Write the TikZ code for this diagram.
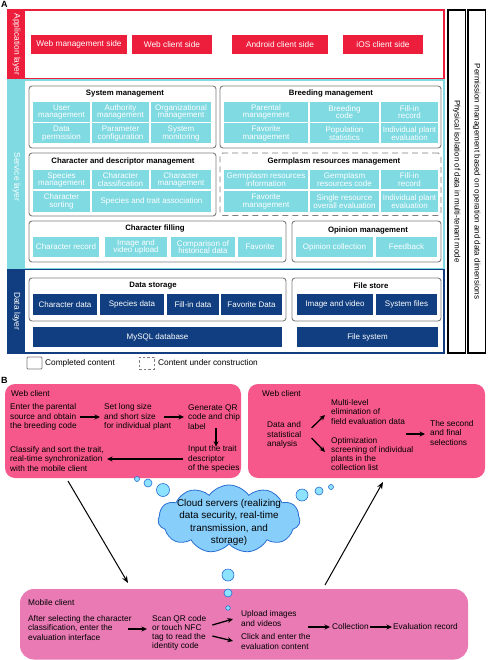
\documentclass[tikz,border=0pt]{standalone}
\usepackage{fontspec}
\setmainfont{Liberation Sans}
\usetikzlibrary{arrows.meta,shapes.symbols}
\definecolor{appred}{RGB}{236,30,60}
\definecolor{svccyan}{RGB}{128,218,226}
\definecolor{datanavy}{RGB}{16,62,128}
\definecolor{grpgray}{RGB}{125,125,125}
\definecolor{webpink}{RGB}{246,88,140}
\definecolor{mobpink}{RGB}{233,122,180}
\definecolor{cloudfill}{RGB}{136,206,250}
\definecolor{cloudline}{RGB}{40,110,210}
\definecolor{bubfill}{RGB}{140,226,255}
\newcommand\bx[7]{\node[#1, minimum width={(#5-#3)*1pt}, minimum height={(#6-#4)*1pt}] (#2) at ({(#3+#5)/2},{(#4+#6)/2}) {#7};}
\tikzset{
  base/.style={inner sep=0pt, outer sep=0pt, align=center},
  cyancell/.style={base, fill=svccyan, text=white, font=\fontsize{8}{7.6}\selectfont},
  navycell/.style={base, fill=datanavy, text=white, font=\fontsize{8}{8}\selectfont},
  redcell/.style={base, fill=appred, text=white, font=\fontsize{8.3}{9}\selectfont},
  grpbox/.style={base, draw=grpgray, line width=0.9pt, rounded corners=3pt},
  grpdash/.style={grpbox, dash pattern=on 6pt off 4pt},
  grptitle/.style={font=\bfseries\fontsize{7.8}{9}\selectfont, inner sep=0pt},
  layerlabel/.style={rotate=-90, text=white, font=\fontsize{8.4}{9}\selectfont, inner sep=0pt},
  sidebar/.style={base, draw=black, line width=1.4pt},
  sidetext/.style={rotate=-90, font=\fontsize{8}{9}\selectfont, inner sep=0pt},
  legtext/.style={anchor=west, font=\fontsize{8.3}{9}\selectfont, inner sep=0pt},
  btext/.style={anchor=west, align=left, inner sep=0pt, font=\fontsize{8.3}{9.2}\selectfont},
  arr/.style={-{Stealth[length=5.5pt,width=5pt]}, line width=1.3pt},
  longarr/.style={-{Stealth[length=7pt,width=5.5pt]}, line width=1pt},
  bubble/.style={circle, draw=cloudline, fill=bubfill, line width=0.6pt, inner sep=0pt, outer sep=0pt},
  panel/.style={font=\bfseries\fontsize{9}{9}\selectfont, anchor=north west, inner sep=0pt}
}
\begin{document}
\begin{tikzpicture}[x=1pt,y=-1pt]
\useasboundingbox (0,0) rectangle (487,660);
\node[panel] (labA) at (1,1) {A};
% ---------- layers ----------
\bx{base, draw=appred, line width=1.5pt}{appframe}{8}{10}{444}{79}{}
\bx{base, fill=appred}{appstrip}{8}{10}{25}{79}{}
\node[layerlabel] (applab) at (appstrip.center) {Application layer};
\bx{base, draw=svccyan, line width=1.5pt}{svcframe}{8}{80}{444}{269}{}
\bx{base, fill=svccyan}{svcstrip}{8}{80}{25}{269}{}
\node[layerlabel] (svclab) at (16.5,177) {Service layer};
\bx{base, draw=datanavy, line width=1.5pt}{dataframe}{8}{269.5}{444}{353}{}
\bx{base, fill=datanavy}{datastrip}{8}{269.5}{25}{353}{}
\node[layerlabel] (datalab) at (datastrip.center) {Data layer};
% ---------- application cells ----------
\bx{redcell}{webman}{31}{35}{127}{54}{Web management side}
\bx{redcell}{webcli}{132}{35}{212}{54}{Web client side}
\bx{redcell}{andcli}{232}{35}{328}{54}{Android client side}
\bx{redcell}{ioscli}{343}{35}{423}{54}{iOS client side}
% ---------- system management ----------
\bx{grpbox}{sysm}{29}{86}{216}{148}{}
\node[grptitle] (sysmt) at (125,94) {System management};
\bx{cyancell}{s11}{33}{102}{90}{122}{User\\management}
\bx{cyancell}{s12}{92}{102}{149}{122}{Authority\\management}
\bx{cyancell}{s13}{151}{102}{211}{122}{Organizational\\management}
\bx{cyancell}{s21}{33}{123.5}{90}{143.5}{Data\\permission}
\bx{cyancell}{s22}{92}{123.5}{149}{143.5}{Parameter\\configuration}
\bx{cyancell}{s23}{151}{123.5}{211}{143.5}{System\\monitoring}
% ---------- breeding management ----------
\bx{grpbox}{brm}{220}{86}{441}{148}{}
\node[grptitle] (brmt) at (331,94) {Breeding management};
\bx{cyancell}{b11}{224}{102}{308}{122}{Parental\\management}
\bx{cyancell}{b12}{310}{102}{379}{122}{Breeding\\code}
\bx{cyancell}{b13}{381}{102}{438}{122}{Fill-in\\record}
\bx{cyancell}{b21}{224}{123.5}{308}{143.5}{Favorite\\management}
\bx{cyancell}{b22}{310}{123.5}{379}{143.5}{Population\\statistics}
\bx{cyancell}{b23}{381}{123.5}{438}{143.5}{Individual plant\\evaluation}
% ---------- character and descriptor ----------
\bx{grpbox}{cdm}{29}{153}{216}{216}{}
\node[grptitle] (cdmt) at (123,162) {Character and descriptor management};
\bx{cyancell}{d11}{33}{170}{90}{189.5}{Species\\management}
\bx{cyancell}{d12}{92}{170}{149}{189.5}{Character\\classification}
\bx{cyancell}{d13}{151}{170}{211}{189.5}{Character\\management}
\bx{cyancell}{d21}{33}{191.5}{90}{211.5}{Character\\sorting}
\bx{cyancell}{d22}{92}{191.5}{211}{211.5}{Species and trait association}
% ---------- germplasm ----------
\bx{grpdash}{grm}{220}{153}{441}{215.5}{}
\node[grptitle] (grmt) at (334,162) {Germplasm resources management};
\bx{cyancell}{g11}{224}{170}{308}{189.5}{Germplasm resources\\information}
\bx{cyancell}{g12}{310}{170}{379}{189.5}{Germplasm\\resources code}
\bx{cyancell}{g13}{381}{170}{438}{189.5}{Fill-in\\record}
\bx{cyancell}{g21}{224}{191.5}{308}{211.5}{Favorite\\management}
\bx{cyancell}{g22}{310}{191.5}{379}{211.5}{Single resource\\overall evaluation}
\bx{cyancell}{g23}{381}{191.5}{438}{211.5}{Individual plant\\evaluation}
% ---------- character filling ----------
\bx{grpbox}{cfm}{29}{221}{286}{262}{}
\node[grptitle] (cfmt) at (155,229) {Character filling};
\bx{cyancell}{f1}{33}{237}{99}{257}{Character record}
\bx{cyancell}{f2}{105}{237}{167}{257}{Image and\\video upload}
\bx{cyancell}{f3}{171}{237}{235}{257}{Comparison of\\historical data}
\bx{cyancell}{f4}{238}{237}{282}{257}{Favorite}
% ---------- opinion ----------
\bx{grpbox}{opm}{292}{221}{441}{262}{}
\node[grptitle] (opmt) at (368,230) {Opinion management};
\bx{cyancell}{o1}{296}{237}{373}{257}{Opinion collection}
\bx{cyancell}{o2}{376}{237}{437}{257}{Feedback}
% ---------- data storage ----------
\bx{grpbox}{dsm}{29}{278}{286}{321}{}
\node[grptitle] (dsmt) at (153,286) {Data storage};
\bx{navycell}{n1}{33}{294}{97}{315}{Character data}
\bx{navycell}{n2}{100}{294}{164}{315}{Species data}
\bx{navycell}{n3}{167}{294}{219}{315}{Fill-in data}
\bx{navycell}{n4}{221}{294}{282}{315}{Favorite Data}
\bx{grpbox}{fsm}{292}{278}{441}{321}{}
\node[grptitle] (fsmt) at (371,286) {File store};
\bx{navycell}{n5}{297}{294}{373}{315}{Image and video}
\bx{navycell}{n6}{376}{294}{437}{315}{System files}
\bx{navycell}{mysql}{33}{327}{282}{347}{MySQL database}
\bx{navycell}{filesys}{297}{327}{438}{347}{File system}
% ---------- side bars ----------
\bx{sidebar}{phys}{448}{10}{465.5}{353}{}
\node[sidetext] (physt) at (phys.center) {Physical isolation of data in multi-tenant mode};
\bx{sidebar}{perm}{468}{10}{485.5}{353}{}
\node[sidetext] (permt) at (perm.center) {Permission management based on operation and data dimensions};
% ---------- legend ----------
\bx{base, draw=grpgray, line width=0.9pt, rounded corners=1pt}{leg1}{27}{357}{42}{369}{}
\node[legtext] (leg1t) at (45,363) {Completed content};
\bx{base, draw=grpgray, line width=0.9pt, dash pattern=on 2.5pt off 2pt}{leg2}{139}{357}{154}{369}{}
\node[legtext] (leg2t) at (158,363) {Content under construction};
% ================= PART B =================
\node[panel] (labB) at (1,377) {B};
\bx{base, fill=webpink, rounded corners=10pt}{webL}{5}{384}{241}{478}{}
\bx{base, fill=webpink, rounded corners=10pt}{webR}{248}{384}{485}{478}{}
\bx{base, fill=mobpink, rounded corners=14pt}{mob}{20}{589}{468}{659.5}{}
% left web client
\node[btext] (wl0) at (11,394) {Web client};
\node[btext] (wl1) at (10,417) {Enter the parental\\source and obtain\\the breeding code};
\node[btext] (wl2) at (104,417) {Set long size\\and short size\\for individual plant};
\node[btext] (wl3) at (188,417) {Generate QR\\code and chip\\label};
\node[btext] (wl4) at (188,459) {Input the trait\\descriptor\\of the species};
\node[btext] (wl5) at (10,459) {Classify and sort the trait,\\real-time synchronization\\with the mobile client};
\draw[arr] ([xshift=3]wl1.east) -- ([xshift=-4]wl2.west);
\draw[arr] ([xshift=60]wl2.west) -- ([xshift=-4]wl3.west);
\draw[arr] ([shift={(2,-1)}]wl3.south) -- ([shift={(2,1)}]wl3.south |- wl4.north);
\draw[arr] ([xshift=-5]wl4.west) -- ([xshift=3]wl5.east);
% right web client
\node[btext] (wr0) at (262,394) {Web client};
\node[btext] (wr1) at (267,435) {Data and\\statistical\\analysis};
\node[btext] (wr2) at (331,412) {Multi-level\\elimination of\\field evaluation data};
\node[btext] (wr3) at (331,454) {Optimization\\screening of individual\\plants in the\\collection list};
\node[btext] (wr4) at (430,433) {The second\\and final\\selections};
\draw[arr] ([shift={(10,-7)}]wr1.east) -- ([shift={(-6,3)}]wr2.west);
\draw[arr] ([shift={(10,3)}]wr1.east) -- ([shift={(-6,-2)}]wr3.west);
\draw[arr] ([shift={(-24,1)}]wr4.west) -- ([shift={(-5,1)}]wr4.west);
% mobile client
\node[btext] (m0) at (28,603) {Mobile client};
\node[btext] (m1) at (28,628) {After selecting the character\\classification, enter the\\evaluation interface};
\node[btext] (m2) at (152,633) {Scan QR code\\or touch NFC\\tag to read the\\identity code};
\node[btext] (m3) at (241,618.5) {Upload images\\and videos};
\node[btext] (m4) at (241,641.5) {Click and enter the\\evaluation content};
\node[btext] (m5) at (332,627) {Collection};
\node[btext] (m6) at (393,627) {Evaluation record};
\draw[arr] ([shift={(-4,1)}]m1.east) -- ([shift={(-5,-4)}]m2.west);
\draw[arr] ([shift={(6,-8)}]m2.east) -- ([shift={(-8,0.5)}]m3.west);
\draw[arr] ([shift={(6,3)}]m2.east) -- ([shift={(-8,-0.5)}]m4.west);
\draw[arr] ([xshift=-24]m5.west) -- ([xshift=-2]m5.west);
\draw[arr] ([xshift=1]m5.east) -- ([xshift=-1]m6.west);
% cloud
\node[cloud, cloud puffs=11, cloud puff arc=110, aspect=2.1, draw=cloudline, fill=cloudfill, line width=0.8pt,
      minimum width=142pt, minimum height=68pt, inner sep=0pt] (cloud) at (229,519) {};
\node[align=center, inner sep=0pt, font=\fontsize{9.9}{12.3}\selectfont] (cloudt) at (229,522.5)
  {Cloud servers (realizing\\data security, real-time\\transmission, and\\storage)};
\node[bubble, minimum size=5pt] (bl1) at (137,479) {};
\node[bubble, minimum size=8pt] (bl2) at (148,483) {};
\node[bubble, minimum size=13pt] (bl3) at (163,490) {};
\node[bubble, minimum size=12pt] (br1) at (302,495) {};
\node[bubble, minimum size=8pt] (br2) at (319,491) {};
\node[bubble, minimum size=5pt] (br3) at (331,487) {};
\node[bubble, minimum size=12pt] (bd1) at (228,575) {};
\node[bubble, minimum size=8pt] (bd2) at (228,593) {};
\node[bubble, minimum size=4.5pt] (bd3) at (228,608) {};
% long connectors
\draw[longarr] ([shift={(63,3)}]webL.south west) -- ([shift={(108,-6)}]mob.north west);
\draw[longarr] ([shift={(305,-4)}]mob.north west) -- ([shift={(135,4)}]webR.south west);
\end{tikzpicture}
\end{document}
